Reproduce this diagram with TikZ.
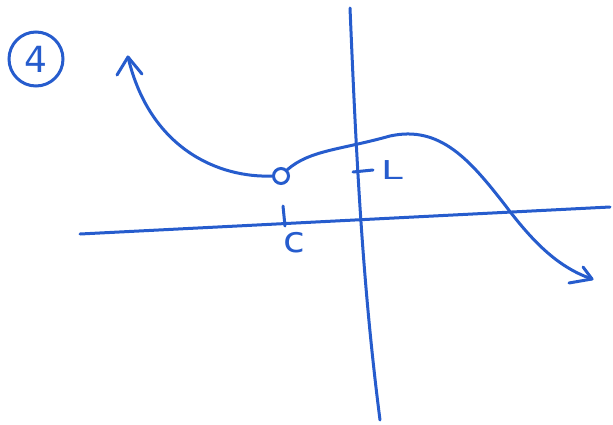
\documentclass[tikz,border=0pt]{standalone}
\usepackage{fontspec}
\setmainfont{DejaVu Sans}
\begin{document}
\begin{tikzpicture}[x=1pt,y=-1pt,
  pen/.style={draw=penblue,line width=3pt,line cap=round,line join=round},
  lbl/.style={text=penblue,inner sep=0pt}]
\definecolor{penblue}{RGB}{38,92,205}
\useasboundingbox (0,0) rectangle (613,424);
% axes
\coordinate (xl) at (80,234);
\coordinate (xr) at (610,207);
\coordinate (yt) at (350,8);
\coordinate (yb) at (380,420);
\draw[pen] (xl) -- (xr);
\draw[pen] (yt) .. controls (356,150) and (362,280) .. (yb);
% ticks
\coordinate (ct) at (283,206);
\coordinate (cb) at (285,226);
\draw[pen] (ct) -- (cb);
\coordinate (lt1) at (353,172);
\coordinate (lt2) at (373,170);
\draw[pen] (lt1) -- (lt2);
% labels
\node[lbl,font=\fontsize{26}{28}\selectfont,xscale=1.5] (L) at (392,170) {L};
\node[lbl,font=\fontsize{36}{38}\selectfont,xscale=1.1] (c) at (294,243) {c};
% circled 4
\node[draw=penblue,line width=3pt,circle,minimum size=54pt,inner sep=0pt,text=penblue,font=\fontsize{36}{38}\selectfont] (four) at (36,59) {4};
% open circle
\node[draw=penblue,line width=3pt,circle,minimum size=15pt,inner sep=0pt] (hole) at (281,176) {};
% left branch
\coordinate (ltip) at (128,57);
\draw[pen] (hole.west) .. controls (220,178) and (150,150) .. (ltip);
\draw[pen] (117,75) -- (ltip) -- (142,74);
% right branch
\coordinate (rtip) at (592,279);
\draw[pen] (hole.north east) .. controls (310,150) and (340,150) .. (390,136)
  .. controls (440,125) and (470,160) .. (505,205)
  .. controls (535,245) and (560,268) .. (rtip);
\draw[pen] (583,267) -- (rtip) -- (569,283);
\end{tikzpicture}
\end{document}
